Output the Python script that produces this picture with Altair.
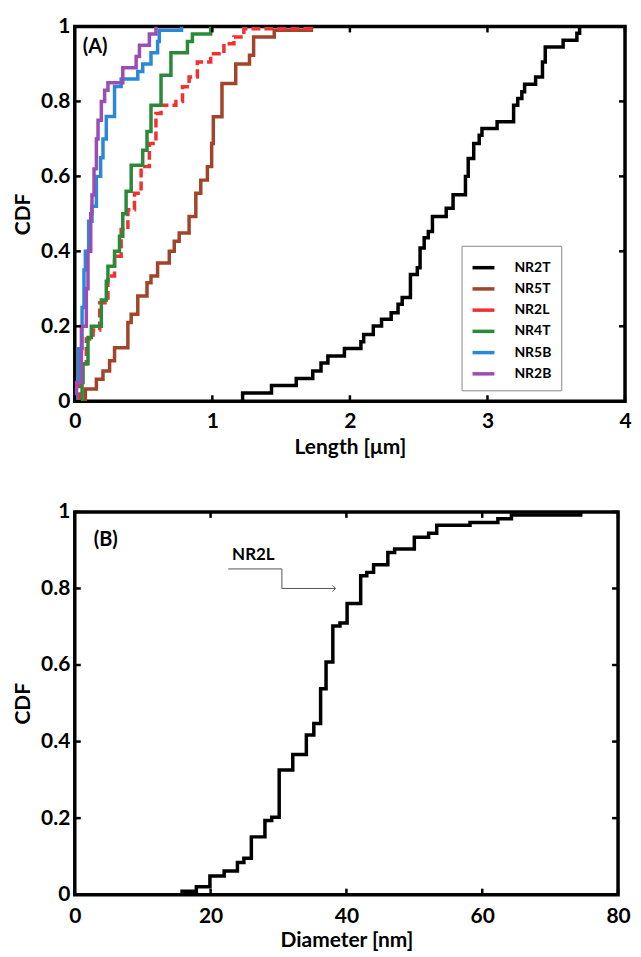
import altair as alt
import pandas as pd

# ---------------- Panel A data (Length, µm) ----------------
SERIES = ["NR2T", "NR5T", "NR2L", "NR4T", "NR5B", "NR2B"]
COLORS = ["#000000", "#A0442A", "#F23030", "#2A8A3A", "#2A88D8", "#9B4DB5"]

NR2T_X = [1.22, 1.22, 1.43, 1.61, 1.73, 1.79, 1.84, 1.96, 2.08, 2.10, 2.17, 2.23, 2.30, 2.35, 2.38,
          2.44, 2.49, 2.51, 2.54, 2.57, 2.60, 2.70, 2.75, 2.84, 2.86, 2.90, 2.94, 2.96, 3.07, 3.19,
          3.22, 3.25, 3.27, 3.35, 3.40, 3.42, 3.55, 3.65, 3.67]
NR2T_Y = [0, 0.022, 0.042, 0.061, 0.081, 0.102, 0.121, 0.141, 0.159, 0.178, 0.201, 0.219, 0.236, 0.259,
          0.277, 0.338, 0.356, 0.409, 0.436, 0.453, 0.493, 0.515, 0.551, 0.600, 0.648, 0.688, 0.710,
          0.728, 0.746, 0.790, 0.808, 0.826, 0.846, 0.865, 0.905, 0.945, 0.963, 0.982, 1.0]

NR5T_X = [0.077, 0.077, 0.157, 0.205, 0.253, 0.289, 0.386, 0.41, 0.458, 0.525, 0.554, 0.602, 0.687,
          0.723, 0.759, 0.831, 0.880, 0.916, 0.964, 0.995, 1.007, 1.07, 1.17, 1.27, 1.30, 1.45, 1.72]
NR5T_Y = [0, 0.033, 0.059, 0.081, 0.108, 0.143, 0.21, 0.232, 0.281, 0.316, 0.334, 0.369, 0.40, 0.427,
          0.449, 0.493, 0.555, 0.59, 0.626, 0.688, 0.759, 0.848, 0.90, 0.923, 0.972, 0.99, 1.0]

NR2L_X = [0.036, 0.036, 0.043, 0.084, 0.133, 0.181, 0.241, 0.289, 0.337, 0.386, 0.434, 0.482, 0.542,
          0.590, 0.627, 0.735, 0.783, 0.831, 0.891, 0.988, 1.084, 1.157, 1.229, 1.73]
NR2L_Y = [0, 0.06, 0.10, 0.166, 0.19, 0.263, 0.334, 0.387, 0.458, 0.511, 0.555, 0.626, 0.688, 0.768,
          0.79, 0.80, 0.839, 0.865, 0.905, 0.927, 0.954, 0.972, 0.994, 1.0]

NR4T_X = [0.053, 0.053, 0.06, 0.096, 0.12, 0.193, 0.229, 0.241, 0.289, 0.325, 0.349, 0.373, 0.41,
          0.494, 0.525, 0.554, 0.627, 0.699, 0.819, 0.855, 0.988]
NR4T_Y = [0, 0.05, 0.10, 0.17, 0.20, 0.27, 0.32, 0.36, 0.40, 0.44, 0.50, 0.56, 0.63, 0.67, 0.72, 0.79,
          0.87, 0.93, 0.96, 0.98, 1.0]

NR5B_X = [0.012, 0.012, 0.029, 0.053, 0.067, 0.077, 0.101, 0.125, 0.157, 0.188, 0.205, 0.229, 0.289,
          0.337, 0.458, 0.494, 0.554, 0.602, 0.614, 0.776]
NR5B_Y = [0, 0.05, 0.14, 0.25, 0.35, 0.40, 0.48, 0.52, 0.60, 0.65, 0.70, 0.76, 0.84, 0.86, 0.88, 0.90,
          0.93, 0.96, 0.99, 1.0]

NR2B_X = [0.005, 0.005, 0.012, 0.048, 0.084, 0.096, 0.116, 0.125, 0.14, 0.157, 0.169, 0.193, 0.217,
          0.241, 0.349, 0.446, 0.47, 0.542, 0.59]
NR2B_Y = [0, 0.03, 0.05, 0.20, 0.30, 0.40, 0.50, 0.55, 0.62, 0.70, 0.75, 0.80, 0.83, 0.85, 0.89, 0.92,
          0.95, 0.98, 1.0]

A_XTICKS = [0, 1, 2, 3, 4]
Y_TICKS = [0, 0.2, 0.4, 0.6, 0.8, 1]

# ---------------- Panel B data (Diameter, nm) ----------------
D_X = [15.8, 15.8, 17.9, 19.9, 22.0, 23.95, 24.9, 26.0, 28.0, 29.0, 30.1, 32.1, 34.1, 35.2, 36.2, 37.0,
       38.0, 39.05, 40.1, 42.1, 43.0, 44.0, 46.1, 47.1, 50.0, 52.1, 53.3, 58.2, 62.3, 64.3, 74.5]
D_Y = [0, 0.009, 0.021, 0.049, 0.062, 0.084, 0.095, 0.151, 0.194, 0.202, 0.326, 0.366, 0.417, 0.447,
       0.538, 0.608, 0.702, 0.71, 0.761, 0.833, 0.842, 0.862, 0.894, 0.903, 0.934, 0.944, 0.965, 0.972,
       0.982, 0.992, 1.0]
B_XTICKS = [0, 20, 40, 60, 80]

# annotation in panel B
ANN_TEXT = "NR2L"
ANN_TEXT_X = [26.3]
ANN_TEXT_Y = [0.888]
ARROW_X = [22.6, 30.5, 30.5, 38.4]
ARROW_Y = [0.851, 0.851, 0.800, 0.800]

FONT = "Lato"

# ---------------- build tables ----------------
xs = {"NR2T": NR2T_X, "NR5T": NR5T_X, "NR2L": NR2L_X, "NR4T": NR4T_X, "NR5B": NR5B_X, "NR2B": NR2B_X}
ys = {"NR2T": NR2T_Y, "NR5T": NR5T_Y, "NR2L": NR2L_Y, "NR4T": NR4T_Y, "NR5B": NR5B_Y, "NR2B": NR2B_Y}
rows = []
for s in SERIES:
    for i, (x, y) in enumerate(zip(xs[s], ys[s])):
        rows.append({"series": s, "x": x, "y": y, "i": i, "dash": "dash" if s == "NR2L" else "solid"})
dfA = pd.DataFrame(rows)
dfB = pd.DataFrame({"x": D_X, "y": D_Y, "i": list(range(len(D_X)))})

WA, HA = 552, 376
WB, HB = 545, 384


def ticks_layer(xticks, yticks, xdom, w, h):
    tx = pd.DataFrame({"t": xticks})
    ty = pd.DataFrame({"t": yticks})
    xs_ = alt.Scale(domain=xdom, nice=False)
    ys_ = alt.Scale(domain=[0, 1], nice=False)
    bot = alt.Chart(tx).mark_rule(color="black", strokeWidth=2.5).encode(
        x=alt.X("t:Q", scale=xs_), y=alt.value(h), y2=alt.value(h - 6))
    top = alt.Chart(tx).mark_rule(color="black", strokeWidth=2.5).encode(
        x=alt.X("t:Q", scale=xs_), y=alt.value(0), y2=alt.value(6))
    lef = alt.Chart(ty).mark_rule(color="black", strokeWidth=2.5).encode(
        y=alt.Y("t:Q", scale=ys_), x=alt.value(0), x2=alt.value(6))
    rig = alt.Chart(ty).mark_rule(color="black", strokeWidth=2.5).encode(
        y=alt.Y("t:Q", scale=ys_), x=alt.value(w), x2=alt.value(w - 6))
    return [bot, top, lef, rig]


def yaxis(title_pad, label_pad):
    return alt.Axis(values=Y_TICKS, title="CDF", ticks=False, domain=False, grid=False,
                    labelFont=FONT, labelFontSize=21, labelFontWeight="bold", labelColor="black",
                    labelPadding=label_pad, titleFont=FONT, titleFontSize=21, titleFontWeight="bold",
                    titleColor="black", titlePadding=title_pad, format="~g")


def xaxis(vals, title, label_pad, title_pad):
    return alt.Axis(values=vals, title=title, ticks=False, domain=False, grid=False,
                    labelFont=FONT, labelFontSize=21, labelFontWeight="bold", labelColor="black",
                    labelPadding=label_pad, titleFont=FONT, titleFontSize=21, titleFontWeight="bold",
                    titleColor="black", titlePadding=title_pad, labelFlush=False, format="~g")


# ---------------- Panel A ----------------
xA = alt.X("x:Q", scale=alt.Scale(domain=[0, 4], nice=False), axis=xaxis(A_XTICKS, "Length [μm]", 9, 5))
yA = alt.Y("y:Q", scale=alt.Scale(domain=[0, 1], nice=False), axis=yaxis(7, 5))

linesA = alt.Chart(dfA).mark_line(interpolate="step-after", strokeWidth=3.5, clip=True).encode(
    x=xA, y=yA,
    order="i:Q",
    detail="series:N",
    color=alt.Color("series:N", scale=alt.Scale(domain=SERIES, range=COLORS), title=None,
                    legend=alt.Legend(orient="none", legendX=388, legendY=220, symbolType="stroke",
                                      symbolSize=484, symbolStrokeWidth=3.5, labelFont=FONT,
                                      labelFontSize=14, labelFontWeight="bold", labelColor="black",
                                      labelOffset=18, rowPadding=1.3, padding=9,
                                      strokeColor="#888888", fillColor="white", symbolOpacity=1)),
    strokeDash=alt.StrokeDash("dash:N", scale=alt.Scale(domain=["solid", "dash"], range=[[1, 0], [9, 4]]),
                              legend=None),
)
labelA = alt.Chart(pd.DataFrame({"t": ["(A)"]})).mark_text(
    font=FONT, fontSize=20, fontWeight="bold", align="left", baseline="middle", color="black").encode(
    text="t:N", x=alt.value(8), y=alt.value(21))

panelA = alt.layer(linesA, labelA, *ticks_layer(A_XTICKS, Y_TICKS, [0, 4], WA, HA)).properties(
    width=WA, height=HA)

# ---------------- Panel B ----------------
xB = alt.X("x:Q", scale=alt.Scale(domain=[0, 80], nice=False), axis=xaxis(B_XTICKS, "Diameter [nm]", 11, 3))
yB = alt.Y("y:Q", scale=alt.Scale(domain=[0, 1], nice=False), axis=yaxis(7, 5))

lineB = alt.Chart(dfB).mark_line(interpolate="step-after", strokeWidth=3.5, color="black").encode(
    x=xB, y=yB, order="i:Q")
labelB = alt.Chart(pd.DataFrame({"t": ["(B)"]})).mark_text(
    font=FONT, fontSize=20, fontWeight="bold", align="left", baseline="middle", color="black").encode(
    text="t:N", x=alt.value(19), y=alt.value(28))
annText = alt.Chart(pd.DataFrame({"x": ANN_TEXT_X, "y": ANN_TEXT_Y, "t": [ANN_TEXT]})).mark_text(
    font=FONT, fontSize=17, fontWeight="bold", color="black").encode(
    x=alt.X("x:Q", scale=alt.Scale(domain=[0, 80], nice=False)),
    y=alt.Y("y:Q", scale=alt.Scale(domain=[0, 1], nice=False)), text="t:N")
arrowDf = pd.DataFrame({"x": ARROW_X, "y": ARROW_Y, "i": list(range(len(ARROW_X)))})
arrowLine = alt.Chart(arrowDf).mark_line(color="#555555", strokeWidth=1).encode(
    x=alt.X("x:Q", scale=alt.Scale(domain=[0, 80], nice=False)),
    y=alt.Y("y:Q", scale=alt.Scale(domain=[0, 1], nice=False)), order="i:Q")
arrowHead = alt.Chart(arrowDf.tail(1)).mark_point(
    shape="M -1 -1 L 0 0 L -1 1", filled=False, color="#555555", strokeWidth=1, size=40, opacity=1).encode(
    x=alt.X("x:Q", scale=alt.Scale(domain=[0, 80], nice=False)),
    y=alt.Y("y:Q", scale=alt.Scale(domain=[0, 1], nice=False)))

panelB = alt.layer(lineB, labelB, annText, arrowLine, arrowHead,
                   *ticks_layer(B_XTICKS, Y_TICKS, [0, 80], WB, HB)).properties(width=WB, height=HB)

chart = alt.concat(panelA, panelB, columns=1, spacing=40).resolve_scale(
    color="independent", strokeDash="independent", x="independent", y="independent"
).properties(
    padding={"left": 2, "top": 4, "right": 0, "bottom": 0}, background="white"
).configure_view(stroke="black", strokeWidth=3.5)

chart.save("out.html", embed_options={"renderer": "svg", "actions": False})
